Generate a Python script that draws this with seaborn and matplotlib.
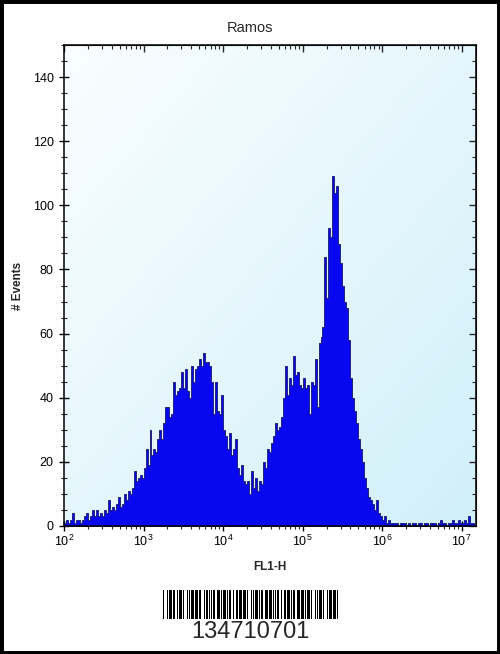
import numpy as np
import pandas as pd
import matplotlib
matplotlib.use("Agg")
import matplotlib.pyplot as plt
import seaborn as sns
from matplotlib.patches import Rectangle
from matplotlib.ticker import MultipleLocator, LogLocator, NullFormatter

sns.set_style("ticks")
plt.rcParams["font.family"] = ["Liberation Sans", "DejaVu Sans"]

# ---------------- data ----------------
title = "Ramos"
x_label = "FL1-H"
y_label = "# Events"
barcode_text = "134710701"
y_ticks = [0, 20, 40, 60, 80, 100, 120, 140]

log_start = 2.0       # first bin starts at 10^2
bin_width = 0.025     # bin width in decades

counts_1e2 = [1, 2, 1, 2, 4, 1, 2, 2, 1, 2, 3, 4, 2, 3, 5, 3, 5, 3, 4, 3,
              5, 4, 8, 5, 6, 5, 7, 9, 6, 7, 10, 8, 11, 10, 12, 17, 14, 15, 16, 15]
counts_1e3 = [18, 24, 19, 30, 22, 24, 23, 27, 30, 27, 32, 37, 37, 34, 35, 45, 41, 42, 43, 48,
              43, 49, 42, 40, 50, 45, 49, 50, 52, 50, 54, 51, 51, 50, 45, 35, 45, 36, 35, 41]
counts_1e4 = [30, 28, 24, 29, 22, 24, 27, 18, 16, 19, 14, 13, 14, 10, 17, 12, 15, 11, 14, 13,
              20, 18, 24, 23, 26, 28, 32, 30, 31, 34, 40, 50, 41, 46, 44, 53, 47, 48, 44, 43]
counts_1e5 = [46, 43, 44, 35, 45, 44, 52, 37, 57, 59, 62, 84, 71, 93, 90, 109, 104, 106, 88, 82,
              75, 70, 68, 58, 46, 40, 36, 32, 27, 24, 20, 15, 12, 9, 8, 7, 5, 8, 4, 3]
counts_1e6 = [2, 3, 1, 2, 1, 1, 1, 1, 0, 1, 1, 1, 0, 1, 0, 1, 1, 0, 1, 1,
              0, 1, 1, 0, 1, 1, 1, 0, 1, 2, 1, 1, 0, 1, 1, 2, 1, 1, 2, 1]
counts_1e7 = [1, 2, 1, 3, 1, 1, 0]

counts = counts_1e2 + counts_1e3 + counts_1e4 + counts_1e5 + counts_1e6 + counts_1e7
n_bins = len(counts)
log_centers = log_start + bin_width * (np.arange(n_bins) + 0.5)
df = pd.DataFrame({"fl1": 10 ** log_centers, "events": counts})

# barcode: Code 39 element patterns (n = narrow, w = wide; bar/space alternating)
code39 = {"0": "nnnwwnwnn", "1": "wnnwnnnnw", "3": "wnwwnnnnn", "4": "nnnwwnnnw",
          "7": "nnnwnnwnw", "*": "nwnnwnwnn"}

# ---------------- figure ----------------
W, H = 500, 654
fig = plt.figure(figsize=(W / 100, H / 100), dpi=100)
fig.patch.set_facecolor("white")

ax_rect = [64 / W, 1 - 526 / H, (476 - 64) / W, (526 - 45) / H]

# background gradient
bg = fig.add_axes(ax_rect, zorder=0)
gy, gx = np.mgrid[0:1:200j, 0:1:200j]
t = np.clip(0.5 * gx + 0.5 * (1 - gy), 0, 1)[..., None]
c0 = np.array([0.98, 0.995, 1.0])
c1 = np.array([0.82, 0.94, 0.98])
img = c0 * (1 - t) + c1 * t
bg.imshow(img, extent=[0, 1, 0, 1], origin="lower", aspect="auto")
bg.set_axis_off()

ax = fig.add_axes(ax_rect, zorder=1)
ax.patch.set_alpha(0)
sns.histplot(data=df, x="fl1", weights="events", bins=n_bins,
             binrange=(log_start, log_start + bin_width * n_bins),
             log_scale=True, element="step", fill=True,
             color="#0808f0", alpha=1.0, edgecolor="#16166a", linewidth=0.6,
             ax=ax)

ax.set_xlim(10 ** 2, 10 ** 7.18)
ax.set_ylim(0, 150)
ax.set_yticks(y_ticks)
ax.yaxis.set_minor_locator(MultipleLocator(5))
ax.xaxis.set_major_locator(LogLocator(base=10, numticks=10))
ax.xaxis.set_minor_locator(LogLocator(base=10, subs=np.arange(2, 10), numticks=20))
ax.xaxis.set_minor_formatter(NullFormatter())

ax.tick_params(axis="both", which="major", direction="inout", length=7, width=1.0,
               labelsize=9, colors="black", pad=2)
ax.tick_params(axis="both", which="minor", direction="inout", length=4, width=0.8)
ax.tick_params(axis="y", which="major", pad=4)

# top / right: short inward ticks
sx = ax.secondary_xaxis("top")
sx.set_xscale("log")
sx.xaxis.set_major_locator(LogLocator(base=10, numticks=10))
sx.xaxis.set_minor_locator(LogLocator(base=10, subs=np.arange(2, 10), numticks=20))
sx.tick_params(which="major", direction="in", length=5, width=1.0, labeltop=False)
sx.tick_params(which="minor", direction="in", length=3, width=0.8)
sx.xaxis.set_major_formatter(NullFormatter())
sx.xaxis.set_minor_formatter(NullFormatter())
sy = ax.secondary_yaxis("right")
sy.set_yticks(y_ticks)
sy.yaxis.set_minor_locator(MultipleLocator(5))
sy.tick_params(which="major", direction="in", length=5, width=1.0, labelright=False)
sy.tick_params(which="minor", direction="in", length=3, width=0.8)

for sp in ax.spines.values():
    sp.set_visible(True)
    sp.set_linewidth(1.1)
    sp.set_color("black")

ax.set_xlabel(x_label, fontsize=8.5, fontweight="bold", labelpad=9)
ax.set_ylabel(y_label, fontsize=8.5, fontweight="bold", labelpad=6)

fig.text(250 / W, 1 - 28 / H, title, ha="center", va="center", fontsize=10.5)

# barcode
bax = fig.add_axes([163 / W, 1 - 619 / H, 175 / W, 29 / H])
wide = 2.2
pos = 0.0
full = "*" + barcode_text + "*"
for ci, chc in enumerate(full):
    for k, e in enumerate(code39[chc]):
        w = wide if e == "w" else 1.0
        if k % 2 == 0:
            bax.add_patch(Rectangle((pos, 0), w, 1, color="black", lw=0))
        pos += w
    if ci < len(full) - 1:
        pos += 1.0
bax.set_xlim(0, pos)
bax.set_ylim(0, 1)
bax.set_axis_off()

fig.text(250 / W, 1 - 632 / H, barcode_text, ha="center", va="center", fontsize=17)

# outer frame
fig.add_artist(Rectangle((0, 0), 1, 1, transform=fig.transFigure, fill=False,
                         lw=5, ec="black"))

fig.savefig("out.png", dpi=100)
